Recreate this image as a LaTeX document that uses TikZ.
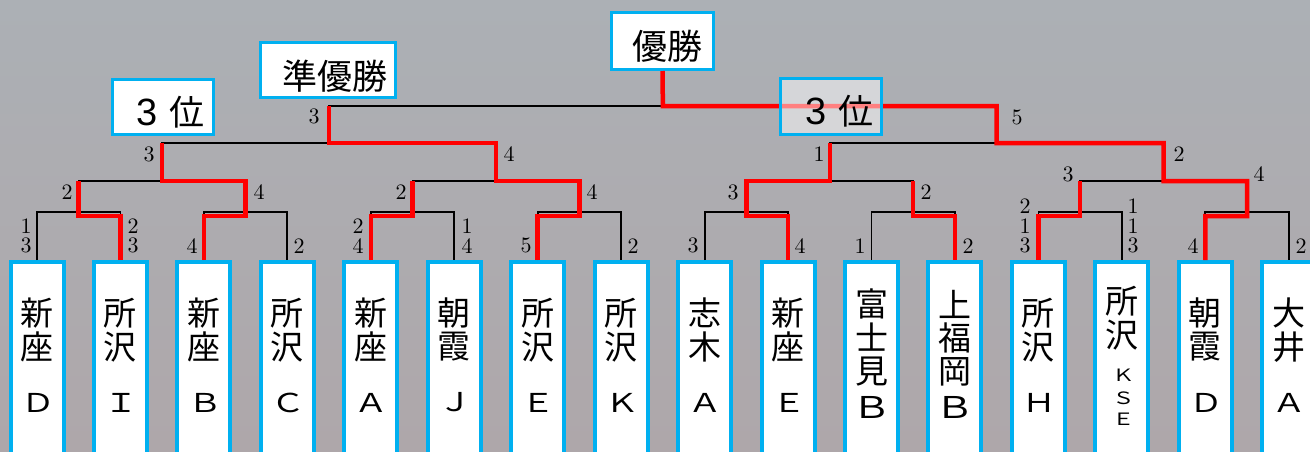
\documentclass[tikz,border=0pt]{standalone}
\usepackage{fontspec}
\newfontfamily\jp{Noto Sans CJK JP}
\newfontfamily\jpw{Noto Sans CJK JP}[FakeStretch=1.3]
\newfontfamily\arl{Liberation Sans}
\newfontfamily\lmten{lmroman10-regular}[Extension=.otf]
\usetikzlibrary{calc}
\definecolor{cyanb}{RGB}{0,176,240}
\definecolor{bgtop}{RGB}{172,176,181}
\definecolor{bgbot}{RGB}{174,167,170}
\definecolor{winred}{RGB}{255,0,0}
\begin{document}
\begin{tikzpicture}[x=1pt,y=-1pt,
  team/.style={draw=cyanb, line width=4pt, fill=white, minimum width=53pt, minimum height=215pt, anchor=north, inner sep=0pt},
  titlebox/.style={draw=cyanb, line width=3pt, fill=white, inner sep=0pt},
  jpc/.style={font=\jp\fontsize{33}{33}\selectfont, inner sep=0pt, anchor=center},
  jpl/.style={font=\jpw\fontsize{26}{26}\selectfont, inner sep=0pt, anchor=center},
  jpb/.style={font=\jpw\fontsize{30}{30}\selectfont, inner sep=0pt, anchor=center},
  jps/.style={font=\jpw\fontsize{17}{17}\selectfont, inner sep=0pt, anchor=center},
  ttl/.style={font=\jp\fontsize{35}{35}\selectfont, inner sep=0pt},
  score/.style={font=\lmten\fontsize{22}{19.5}\selectfont, inner sep=0pt, anchor=south, align=center},
  bk/.style={draw=black, line width=1.8pt},
  win/.style={draw=winred, line width=4.5pt},
]
\useasboundingbox (0,0) rectangle (1310,451);
\clip (0,0) rectangle (1310,451);
\fill[top color=bgtop, bottom color=bgbot] (0,0) rectangle (1310,451);

% junction coordinates
\foreach \k in {1,...,8}{\coordinate (ra\k) at ({78.725+166.9*(\k-1)},212);}
\foreach \k in {1,...,4}{\coordinate (rb\k) at ({162.175+333.8*(\k-1)},181);}
\foreach \k in {1,2}{\coordinate (rc\k) at ({329.075+667.6*(\k-1)},143);}
\coordinate (fin) at (662.875,106);

% team boxes
\foreach \i in {1,...,16}{
  \node[team] (t\i) at ({37+83.45*(\i-1)},260) {};
}

% black bracket lines
\foreach \k in {1,...,8}{
  \pgfmathtruncatemacro\la{2*\k-1}\pgfmathtruncatemacro\lb{2*\k}
  \draw[bk] (t\la.north) |- (ra\k) -| (t\lb.north);
}
\foreach \k in {1,...,4}{
  \pgfmathtruncatemacro\la{2*\k-1}\pgfmathtruncatemacro\lb{2*\k}
  \draw[bk] (ra\la) |- (rb\k) -| (ra\lb);
}
\draw[bk] (rb1) |- (rc1) -| (rb2);
\draw[bk] (rb3) |- (rc2) -| (rb4);
\draw[bk] (rc1) |- (fin) -| (rc2);

% title boxes
\node[titlebox, minimum width=102pt, minimum height=57pt] (champ) at (662.5,41) {};
\node[titlebox, minimum width=135pt, minimum height=55pt] (runner) at (328,70) {};
\node[titlebox, minimum width=101pt, minimum height=55pt] (thirdA) at (163,107) {};

% winners (red)
\draw[win] (t2.north) |- ($(ra1)+(0,4)$) -- (ra1 |- rb1);
\draw[win] (t3.north) |- ($(ra2)+(0,4)$) -- (ra2 |- rb1) -- (rb1) -- (rb1 |- rc1);
\draw[win] (t5.north) |- ($(ra3)+(0,4)$) -- (ra3 |- rb2);
\draw[win] (t7.north) |- ($(ra4)+(0,4)$) -- (ra4 |- rb2) -- (rb2) -- (rb2 |- rc1) -- (rc1) -- (rc1 |- fin);
\draw[win] (t10.north) |- ($(ra5)+(0,4)$) -- (ra5 |- rb3) -- (rb3) -- (rb3 |- rc2);
\draw[win] (t12.north) |- ($(ra6)+(0,4)$) -- (ra6 |- rb3);
\draw[win] (t13.north) |- ($(ra7)+(0,4)$) -- (ra7 |- rb4);
\draw[win] (t15.north) |- ($(ra8)+(0,4)$) -- (ra8 |- rb4) -- (rb4) -- (rb4 |- rc2) -- (rc2) -- (rc2 |- fin) -- (fin) -- (champ.south);

% translucent third-place box
\node[draw=cyanb, line width=3pt, fill=white, fill opacity=0.5, inner sep=0pt, minimum width=101pt, minimum height=56pt] (thirdB) at (831,106.5) {};

% title texts
\node[ttl] (champT) at (667,46) {優勝};
\node[ttl] (runnerT) at (335,76) {準優勝};
\node[ttl, anchor=base] (thirdAT) at (170.5,125) {{\arl\fontsize{38}{38}\selectfont 3}\hspace{12pt}位};
\node[ttl, anchor=base] (thirdBT) at (839.5,124) {{\arl\fontsize{38}{38}\selectfont 3}\hspace{12pt}位};

% team names
\foreach \i/\a/\b/\c in {1/新/座/Ｄ,2/所/沢/Ｉ,3/新/座/Ｂ,4/所/沢/Ｃ,5/新/座/Ａ,6/朝/霞/Ｊ,7/所/沢/Ｅ,8/所/沢/Ｋ,9/志/木/Ａ,10/新/座/Ｅ,13/所/沢/Ｈ,15/朝/霞/Ｄ,16/大/井/Ａ}{
  \node[jpc] (na\i) at ({37+83.45*(\i-1)},313) {\a};
  \node[jpc] (nb\i) at ({37+83.45*(\i-1)},347) {\b};
  \node[jpl] (nc\i) at ({38+83.45*(\i-1)},402.5) {\c};
}
\node[jpc] (na11) at (t11 |- 0,304) {富};
\node[jpc] (nb11) at (t11 |- 0,337.5) {士};
\node[jpc] (nd11) at (t11 |- 0,371.5) {見};
\node[jpb] (nc11) at (t11 |- 0,407.5) {Ｂ};
\node[jpc] (na12) at (t12 |- 0,304) {上};
\node[jpc] (nb12) at (t12 |- 0,337.5) {福};
\node[jpc] (nd12) at (t12 |- 0,371.5) {岡};
\node[jpb] (nc12) at (t12 |- 0,407.5) {Ｂ};
\node[jpc] (na14) at (t14 |- 0,301) {所};
\node[jpc] (nb14) at (t14 |- 0,335) {沢};
\node[jps] (nk14) at ($(t14 |- 0,375.5)+(1.5,0)$) {Ｋ};
\node[jps] (ns14) at ($(t14 |- 0,398.5)+(1.5,0)$) {Ｓ};
\node[jps] (ne14) at ($(t14 |- 0,419)+(1.5,0)$) {Ｅ};

% scores
\foreach \x/\y/\s [count=\n] in {26/253.5/{1\\3},133/253.5/{2\\3},192/253.5/4,299/253.5/2,358/253.5/{2\\4},467/253.5/{1\\4},526/253.5/5,633/253.5/2,693/253.5/3,800/253.5/4,860/253.5/1,968/253.5/2,1025/253.5/{2\\1\\3},1133/253.5/{1\\1\\3},1193/253.5/4,1301/253.5/2,67/200/2,259/200/4,401/200/2,592/200/4,733/200/3,926/200/2,1068/182/3,1259/182/4,149/162/3,509/162/4,819/162/1,1179/162/2,314/124/3,1017/125/5}{
  \node[score] (s\n) at (\x,\y) {\s};
}
\end{tikzpicture}
\end{document}
